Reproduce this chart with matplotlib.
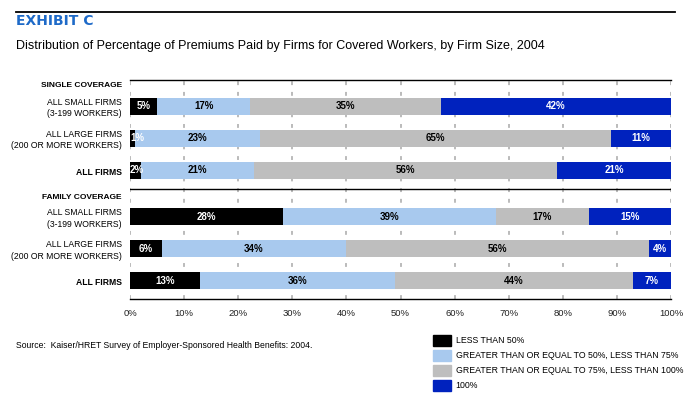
import matplotlib
matplotlib.use("Agg")
import matplotlib.pyplot as plt
import matplotlib.transforms as mtransforms
from matplotlib.patches import Rectangle
import numpy as np

plt.rcParams['font.family'] = ['Liberation Sans', 'DejaVu Sans']

# Data (percent of covered workers)
ROW_LABELS = [
    'ALL SMALL FIRMS\n(3-199 WORKERS)',
    'ALL LARGE FIRMS\n(200 OR MORE WORKERS)',
    'ALL FIRMS',
    'ALL SMALL FIRMS\n(3-199 WORKERS)',
    'ALL LARGE FIRMS\n(200 OR MORE WORKERS)',
    'ALL FIRMS',
]
ROW_BOLD = [False, False, True, False, False, True]
GROUP_LABELS = ['SINGLE COVERAGE', 'FAMILY COVERAGE']

less_50 = [5.0, 0.9, 2.0, 28.3, 5.9, 12.9]
from_50_to_75 = [17.2, 23.1, 20.9, 39.4, 34.0, 36.1]
from_75_to_100 = [35.3, 64.9, 56.0, 17.1, 56.0, 44.0]
full_100 = [42.5, 11.1, 21.1, 15.2, 4.1, 7.0]

shown_less_50 = ['5%', '1%', '2%', '28%', '6%', '13%']
shown_50_75 = ['17%', '23%', '21%', '39%', '34%', '36%']
shown_75_100 = ['35%', '65%', '56%', '17%', '56%', '44%']
shown_100 = ['42%', '11%', '21%', '15%', '4%', '7%']

SEGMENT_NAMES = [
    'LESS THAN 50%',
    'GREATER THAN OR EQUAL TO 50%, LESS THAN 75%',
    'GREATER THAN OR EQUAL TO 75%, LESS THAN 100%',
    '100%',
]
SEGMENT_COLORS = ['#000000', '#A8C9EE', '#BEBEBE', '#0022BE']
TEXT_COLORS = ['white', 'black', 'black', 'white']
TICKS = np.arange(0, 101, 10)

# layout in "row" units (32 px per unit)
ROW_POS = [0.82, 1.82, 2.82, 4.27, 5.27, 6.27]
HEADER_POS = [0.16, 3.66]
DIVIDER = 3.41
Y_MAX = 6.84
BAR_H = 0.53

W, H = 698, 399
fig = plt.figure(figsize=(W / 100, H / 100), dpi=100)
fig.patch.set_facecolor('white')

ax = fig.add_axes([130 / W, 1 - 299 / H, 541 / W, 219 / H])
ax.set_xlim(0, 100)
ax.set_ylim(Y_MAX, 0)

# dotted gridlines
for t in TICKS:
    ax.axvline(t, color='#BBBBBB', lw=1.4, linestyle=(0, (2, 3.5)), zorder=0)

series = [less_50, from_50_to_75, from_75_to_100, full_100]
shown = [shown_less_50, shown_50_75, shown_75_100, shown_100]
left = np.zeros(len(ROW_POS))
for vals, labs, col, tcol in zip(series, shown, SEGMENT_COLORS, TEXT_COLORS):
    vals = np.array(vals)
    ax.barh(ROW_POS, vals, left=left, height=BAR_H, color=col, zorder=2)
    for y, l, v, s in zip(ROW_POS, left, vals, labs):
        xc = max(l + v / 2, l + 1.3)
        ax.text(xc, y, s, ha='center', va='center', color=tcol,
                fontsize=7, fontweight='bold', zorder=3)
    left = left + vals

# lines
for side in ['left', 'right']:
    ax.spines[side].set_visible(False)
ax.spines['top'].set_linewidth(1.0)
ax.spines['bottom'].set_linewidth(1.0)
ax.axhline(DIVIDER, color='black', lw=1.0, zorder=3)

ax.set_xticks(TICKS)
ax.set_xticklabels([f'{t}%' for t in TICKS], fontsize=6.8, color='#222222')
ax.tick_params(axis='x', length=0, pad=7)
ax.set_yticks([])

# row and group labels
trans = mtransforms.blended_transform_factory(ax.transAxes, ax.transData)
lx = -8 / 541
for y, lab, b in zip(ROW_POS, ROW_LABELS, ROW_BOLD):
    ax.text(lx, y + 0.06, lab, transform=trans, ha='right', va='center',
            fontsize=6.2, fontweight='bold' if b else 'normal',
            linespacing=1.35, clip_on=False)
for y, lab in zip(HEADER_POS, GROUP_LABELS):
    ax.text(lx, y, lab, transform=trans, ha='right', va='center',
            fontsize=6.0, fontweight='bold', clip_on=False)

# header
fig.add_artist(plt.Line2D([16 / W, 675 / W], [1 - 11.5 / H, 1 - 11.5 / H],
                          color='black', lw=1.3))
fig.text(16 / W, 1 - 21 / H, 'EXHIBIT C', color='#1E6AC8', fontsize=10,
         fontweight='bold', ha='left', va='center', family='DejaVu Sans')
fig.text(16 / W, 1 - 45.5 / H,
         'Distribution of Percentage of Premiums Paid by Firms for Covered Workers, by Firm Size, 2004',
         fontsize=9, ha='left', va='center')

# source
fig.text(16 / W, 1 - 345 / H,
         'Source:  Kaiser/HRET Survey of Employer-Sponsored Health Benefits: 2004.',
         fontsize=6.2, ha='left', va='center')

# legend
leg_y = [340.5, 355.7, 370.5, 385.5]
for yy, name, col in zip(leg_y, SEGMENT_NAMES, SEGMENT_COLORS):
    fig.add_artist(Rectangle((433 / W, 1 - (yy + 5.5) / H), 18 / W, 11 / H,
                             transform=fig.transFigure, color=col))
    fig.text(455.5 / W, 1 - yy / H, name, fontsize=6.3, ha='left', va='center')

fig.savefig('out.png', dpi=100, facecolor='white')
